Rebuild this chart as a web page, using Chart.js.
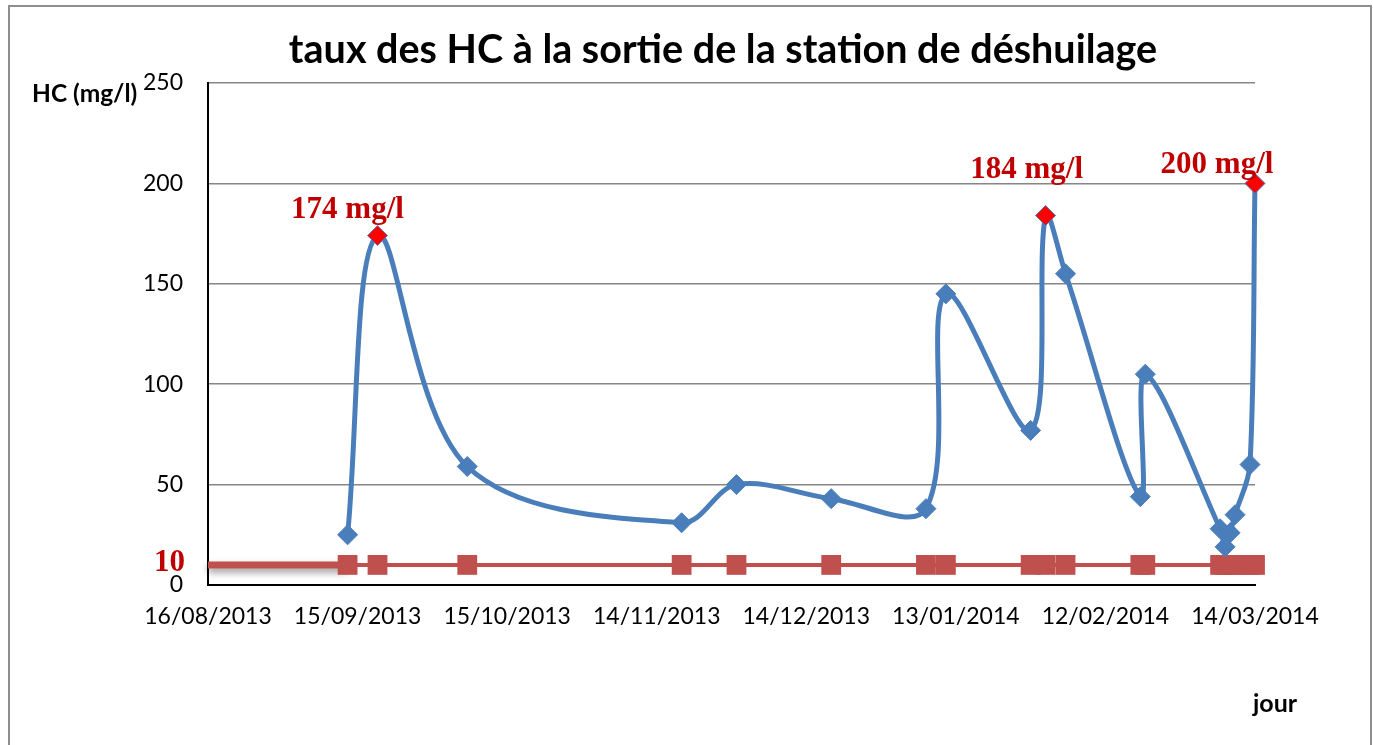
<!DOCTYPE html>
<html><head><meta charset="utf-8">
<script src="https://cdn.jsdelivr.net/npm/chart.js@4.4.1/dist/chart.umd.min.js"></script>
<style>
html,body{margin:0;padding:0;background:#fff;overflow:hidden}
#wrap{position:relative;width:1373px;height:745px}
#frame{position:absolute;left:8px;top:5px;width:1364px;height:800px;border:2px solid #8e8e8e;box-sizing:border-box}
canvas{position:absolute;left:0;top:0}
</style></head><body>
<div id="wrap"><div id="frame"></div><canvas id="c" width="1373" height="745"></canvas></div>
<script>
// ---- data ----
const sampleDates = ['13/09/2013','19/09/2013','07/10/2013','19/11/2013','30/11/2013','19/12/2013','07/01/2014','11/01/2014','28/01/2014','31/01/2014','04/02/2014','19/02/2014','20/02/2014','07/03/2014','08/03/2014','09/03/2014','10/03/2014','13/03/2014','14/03/2014'];
const hcValues = [25,174,59,31,50,43,38,145,77,184,155,44,105,28,19,26,35,60,200];
const normValues = [10,10,10,10,10,10,10,10,10,10,10,10,10,10,10,10,10,10,10];
const normLeadDates = ['16/08/2013','13/09/2013'];
const normLeadValues = [10,10];
const peakLabels = ['','174 mg/l','','','','','','','','184 mg/l','','','','','','','','','200 mg/l'];
const tickLabels = ['16/08/2013','15/09/2013','15/10/2013','14/11/2013','14/12/2013','13/01/2014','12/02/2014','14/03/2014'];
const yTickValues = [0,50,100,150,200,250];
const normLabel = '10';
const chartTitle = 'taux des HC à la sortie de la station de déshuilage';
const yTitle = 'HC (mg/l)';
const xTitle = 'jour';

// ---- helpers ----
function toUTC(s){const p=s.split('/');return Date.UTC(+p[2],+p[1]-1,+p[0]);}
const t0 = toUTC(tickLabels[0]);
function dayOf(s){return Math.round((toUTC(s)-t0)/86400000);}

const hcPoints = sampleDates.map((d,i)=>({x:dayOf(d),y:hcValues[i]}));
const normPoints = sampleDates.map((d,i)=>({x:dayOf(d),y:normValues[i]}));
const leadPoints = normLeadDates.map((d,i)=>({x:dayOf(d),y:normLeadValues[i]}));

const BLUE='#4a7ebb', RED='#c0504d', DARKRED='#c00000';
const SANS='Lato, "Open Sans", sans-serif';
const SERIF='"Liberation Serif", "DejaVu Serif", serif';

const labelOffsets = {1:[-30,-18], 9:[-19,-38], 18:[-38,-10]};

const textPlugin = {
  id:'texts',
  beforeDatasetDraw(chart,args){
    if(args.index===2){const c=chart.ctx;c.save();c.shadowColor='rgba(0,0,0,0.4)';c.shadowBlur=7;c.shadowOffsetY=4;}
  },
  afterDatasetDraw(chart,args){ if(args.index===2){chart.ctx.restore();} },
  afterDraw(chart){
    const c=chart.ctx, xs=chart.scales.x, ys=chart.scales.y;
    c.save();
    c.fillStyle='#000';
    c.textAlign='center';c.textBaseline='alphabetic';
    c.font='bold 39.5px '+SANS;
    c.fillText(chartTitle,723,63);
    c.font='bold 24.5px '+SANS;
    c.textAlign='left';
    c.fillText(yTitle,32,102);
    c.font='bold 25px '+SANS;
    c.fillText(xTitle,1253,712);
    // norm label
    c.fillStyle=DARKRED;
    c.font='bold 31px '+SERIF;
    c.textAlign='right';
    c.fillText(normLabel,185,ys.getPixelForValue(normValues[0])+6);
    // peak labels
    c.textAlign='center';
    peakLabels.forEach((l,i)=>{
      if(!l)return;
      const o=labelOffsets[i]||[0,-15];
      c.fillText(l,xs.getPixelForValue(hcPoints[i].x)+o[0],ys.getPixelForValue(hcPoints[i].y)+o[1]);
    });
    c.restore();
  }
};

new Chart(document.getElementById('c'),{
  type:'line',
  data:{datasets:[
    {label:'HC',data:hcPoints,borderColor:BLUE,borderWidth:5,tension:0.35,clip:false,
     pointStyle:'rectRot',pointRadius:10,pointBorderWidth:1,
     pointBackgroundColor:peakLabels.map(l=>l?'#ff0000':BLUE),pointBorderColor:BLUE,order:1},
    {label:'norme',data:normPoints,borderColor:RED,borderWidth:4,tension:0,clip:false,
     pointStyle:'rect',pointRadius:14,pointBorderWidth:0,pointBackgroundColor:RED,order:2},
    {label:'norme0',data:leadPoints,borderColor:RED,borderWidth:7,tension:0,pointRadius:0,clip:false,order:3}
  ]},
  options:{
    responsive:false,animation:false,devicePixelRatio:1,
    layout:{padding:{left:0,top:83,right:118,bottom:0}},
    plugins:{legend:{display:false},tooltip:{enabled:false},title:{display:false}},
    scales:{
      x:{type:'linear',min:0,max:dayOf(tickLabels[tickLabels.length-1]),
        afterBuildTicks(s){s.ticks=tickLabels.map(l=>({value:dayOf(l)}));},
        afterFit(s){s.height=160;},
        grid:{display:false,drawTicks:false},
        border:{display:true,color:'#000',width:2},
        ticks:{padding:18,maxRotation:0,autoSkip:false,color:'#000',font:{family:SANS,size:23},
          callback:(v,i)=>tickLabels[i]}},
      y:{type:'linear',min:yTickValues[0],max:yTickValues[yTickValues.length-1],
        afterBuildTicks(s){s.ticks=yTickValues.map(v=>({value:v}));},
        afterFit(s){s.width=208;},
        grid:{color:'#868686',lineWidth:1.5,drawTicks:false},
        border:{display:true,color:'#000',width:2},
        ticks:{padding:25,color:'#000',font:{family:SANS,size:23}}}
    }
  },
  plugins:[textPlugin]
});
</script>
</body></html>
